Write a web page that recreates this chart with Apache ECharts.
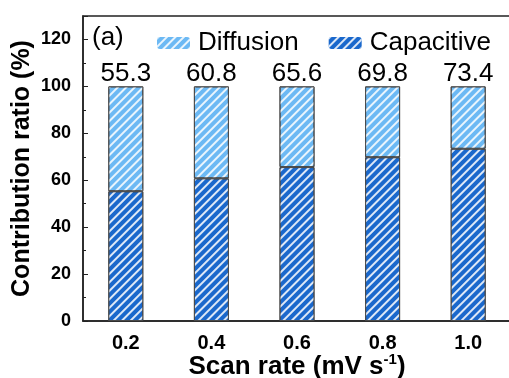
<!DOCTYPE html>
<html>
<head>
<meta charset="utf-8">
<script src="https://cdn.jsdelivr.net/npm/echarts@6/dist/echarts.min.js"></script>
<style>
  html, body { margin: 0; padding: 0; background: #fff; }
  #chart { width: 509px; height: 378px; }
</style>
</head>
<body>
<div id="chart"></div>
<script>
// scan rates (mV s-1)
const scanRates = ["0.2", "0.4", "0.6", "0.8", "1.0"];
// capacitive contribution (%)
const capacitive = [55.3, 60.8, 65.6, 69.8, 73.4];
// diffusion contribution (%)
const diffusion = [44.7, 39.2, 34.4, 30.2, 26.6];
// y tick labels
const yTicks = [0, 20, 40, 60, 80, 100, 120];

const font = "Liberation Sans, Arial, sans-serif";

// diagonal white stripes like the original hatch
function hatch() {
  return {
    symbol: "rect",
    symbolSize: 1,
    color: "rgba(255,255,255,0.85)",
    dashArrayX: [1, 0],
    dashArrayY: [2, 3.2],
    rotation: -Math.PI / 4,
  };
}

const chart = echarts.init(document.getElementById("chart"));
chart.setOption({
  animation: false,
  grid: {
    left: 83,
    right: -2,
    top: 16,
    bottom: 57,
    outerBoundsMode: "none",
    show: true,
    borderColor: "#222",
    borderWidth: 1.5,
  },
  legend: {
    left: 152,
    top: 25,
    itemWidth: 33,
    itemHeight: 12,
    itemGap: 30,
    itemStyle: { borderWidth: 0 },
    textStyle: { fontFamily: font, fontSize: 26, color: "#000", padding: [0, 0, 0, 3] },
    data: ["Diffusion", "Capacitive"],
  },
  graphic: [
    {
      type: "text",
      left: 92,
      top: 25,
      style: { text: "(a)", font: "26px " + font, fill: "#000" },
    },
  ],
  xAxis: [
    {
      type: "category",
      data: scanRates,
      name: "Scan rate (mV s{sup|-1})",
      nameLocation: "middle",
      nameGap: 31,
      nameMoveOverlap: false,
      nameTextStyle: {
        fontFamily: font,
        fontSize: 26,
        fontWeight: "bold",
        color: "#000",
        rich: {
          sup: { fontFamily: font, fontSize: 15, fontWeight: "bold", verticalAlign: "top", padding: [0, 0, 14, 0] },
        },
      },
      axisLine: { lineStyle: { color: "#222", width: 1.5 } },
      axisTick: { inside: true, length: 5, lineStyle: { color: "#222" } },
      axisLabel: {
        margin: 12,
        fontFamily: font,
        fontSize: 20,
        fontWeight: "bold",
        color: "#000",
      },
    },
    {
      // ticks at bar centres
      type: "category",
      data: scanRates,
      position: "bottom",
      axisLine: { show: false },
      axisTick: { inside: true, alignWithLabel: true, length: 4, lineStyle: { color: "#222" } },
      axisLabel: { show: false },
    },
  ],
  yAxis: {
    type: "value",
    min: 0,
    max: 130,
    interval: 20,
    name: "Contribution ratio (%)",
    nameLocation: "middle",
    nameGap: 48,
    nameMoveOverlap: false,
    nameTextStyle: { fontFamily: font, fontSize: 25, fontWeight: "bold", color: "#000" },
    axisLine: { show: true, lineStyle: { color: "#222", width: 1.5 } },
    axisTick: { show: true, inside: true, length: 5, lineStyle: { color: "#222" } },
    minorTick: { show: true, splitNumber: 2, length: 3, lineStyle: { color: "#222" } },
    splitLine: { show: false },
    axisLabel: {
      margin: 12,
      fontFamily: font,
      fontSize: 18,
      fontWeight: "bold",
      color: "#000",
      formatter: function (v) {
        return yTicks.indexOf(v) >= 0 ? String(v) : "";
      },
    },
  },
  series: [
    {
      name: "Capacitive",
      type: "bar",
      stack: "total",
      barWidth: 35,
      data: capacitive,
      itemStyle: {
        color: "#1a68cc",
        borderColor: "#4a4a4a",
        borderWidth: 1,
        decal: hatch(),
      },
    },
    {
      name: "Diffusion",
      type: "bar",
      stack: "total",
      barWidth: 35,
      data: diffusion,
      itemStyle: {
        color: "#6cb9f4",
        borderColor: "#4a4a4a",
        borderWidth: 1,
        decal: hatch(),
      },
      label: {
        show: true,
        position: "top",
        distance: 0,
        fontFamily: font,
        fontSize: 26,
        color: "#000",
        formatter: function (p) {
          return capacitive[p.dataIndex].toFixed(1);
        },
      },
    },
  ],
});
</script>
</body>
</html>
